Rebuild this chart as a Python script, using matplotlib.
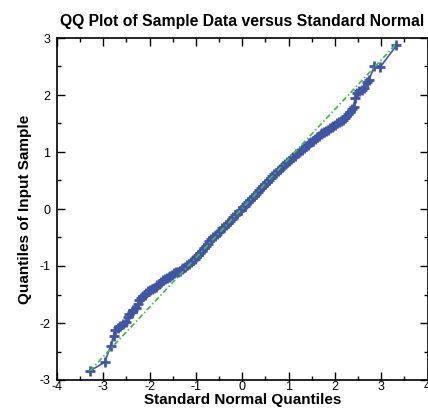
import matplotlib
matplotlib.use("Agg")
import matplotlib.pyplot as plt
from matplotlib.ticker import MultipleLocator

plt.rcParams.update({"font.family": ["Liberation Sans", "DejaVu Sans"],
                     "axes.unicode_minus": False})

BLUE, GREEN = "#3f55a6", "#4cb84c"

# sorted sample quantiles vs standard normal quantiles
norm_q = [-3.29, -2.97, -2.84, -2.78, -2.74, -2.68, -2.63, -2.57, -2.51, -2.47,
          -2.44, -2.39, -2.35, -2.30, -2.26, -2.23,
          -2.19, -2.15, -2.11, -2.07, -2.03, -1.99, -1.95, -1.91, -1.87, -1.83,
          -1.79, -1.75, -1.71, -1.67, -1.63, -1.59, -1.55, -1.51, -1.47, -1.43,
          -1.39, -1.35, -1.31, -1.27, -1.23, -1.19, -1.15, -1.11, -1.07, -1.03,
          -0.99, -0.95, -0.91, -0.87, -0.83, -0.79, -0.75, -0.71, -0.67, -0.63,
          -0.59, -0.55, -0.51, -0.47, -0.43, -0.39, -0.35, -0.31, -0.27, -0.23,
          -0.19, -0.15, -0.11, -0.07, -0.03, 0.01, 0.05, 0.09, 0.13, 0.17,
          0.21, 0.25, 0.29, 0.33, 0.37, 0.41, 0.45, 0.49, 0.53, 0.57,
          0.61, 0.65, 0.69, 0.73, 0.77, 0.81, 0.85, 0.89, 0.93, 0.97,
          1.01, 1.05, 1.09, 1.13, 1.17, 1.21, 1.25, 1.29, 1.33, 1.37,
          1.41, 1.45, 1.49, 1.53, 1.57, 1.61, 1.65, 1.69, 1.73, 1.77,
          1.81, 1.85, 1.89, 1.93, 1.97, 2.01, 2.05, 2.09, 2.13, 2.17,
          2.21, 2.25, 2.29,
          2.33, 2.37, 2.41, 2.43, 2.48, 2.53, 2.59, 2.63, 2.70, 2.74,
          2.85, 2.98, 3.33]
sample_q = [-2.84, -2.69, -2.40, -2.22, -2.13, -2.08, -2.06, -2.01, -1.99, -1.90,
            -1.84, -1.80, -1.78, -1.73, -1.67, -1.60,
            -1.57, -1.53, -1.50, -1.47, -1.44, -1.42, -1.40, -1.38, -1.36, -1.34,
            -1.31, -1.28, -1.25, -1.23, -1.21, -1.19, -1.17, -1.15, -1.13, -1.11,
            -1.10, -1.08, -1.06, -1.04, -1.02, -0.99, -0.96, -0.93, -0.90, -0.87,
            -0.84, -0.81, -0.78, -0.74, -0.69, -0.65, -0.61, -0.56, -0.53, -0.50,
            -0.47, -0.44, -0.41, -0.38, -0.34, -0.31, -0.28, -0.25, -0.21, -0.18,
            -0.14, -0.11, -0.08, -0.04, -0.01, 0.03, 0.06, 0.09, 0.13, 0.16,
            0.20, 0.23, 0.27, 0.30, 0.33, 0.37, 0.41, 0.44, 0.47, 0.51,
            0.54, 0.58, 0.61, 0.64, 0.67, 0.70, 0.73, 0.76, 0.79, 0.82,
            0.85, 0.88, 0.91, 0.93, 0.96, 0.99, 1.02, 1.04, 1.07, 1.10,
            1.13, 1.15, 1.18, 1.20, 1.23, 1.26, 1.28, 1.31, 1.33, 1.35,
            1.37, 1.39, 1.42, 1.44, 1.46, 1.48, 1.50, 1.52, 1.54, 1.57,
            1.60, 1.63, 1.67,
            1.71, 1.75, 1.79, 1.95, 2.03, 2.07, 2.09, 2.12, 2.22, 2.27,
            2.50, 2.49, 2.87]

# reference line through the quartiles, extended
ref_x = [-3.29, 3.34]
ref_y = [-2.84, 2.91]

fig = plt.figure(figsize=(4.28, 4.15), dpi=100)
ax = fig.add_axes([57 / 428, 1 - 380 / 415, 370.5 / 428, 342 / 415])

ax.plot(norm_q, sample_q, color=BLUE, lw=1.2, marker="+", ms=7, mew=2.0,
        zorder=2)
ln, = ax.plot(ref_x, ref_y, color=GREEN, lw=1.3, zorder=3)
ln.set_dashes([3.0, 1.4, 0.8, 1.4])

ax.set_xlim(-4, 4)
ax.set_ylim(-3, 3)
ax.xaxis.set_major_locator(MultipleLocator(1))
ax.xaxis.set_minor_locator(MultipleLocator(0.5))
ax.yaxis.set_major_locator(MultipleLocator(1))
ax.yaxis.set_minor_locator(MultipleLocator(0.5))
ax.tick_params(which="both", direction="in", top=True, right=True,
               width=1.0, labelsize=9)
ax.tick_params(which="major", length=5.5)
ax.tick_params(which="minor", length=3.2)
ax.tick_params(axis="x", pad=1)
ax.tick_params(axis="y", pad=5)
for s in ax.spines.values():
    s.set_linewidth(1.2)

ax.set_title("QQ Plot of Sample Data versus Standard Normal",
             fontsize=11.3, fontweight="bold", pad=9)
ax.set_xlabel("Standard Normal Quantiles", fontsize=11, fontweight="bold",
              labelpad=0)
ax.set_ylabel("Quantiles of Input Sample", fontsize=11, fontweight="bold",
              labelpad=5)

fig.savefig("out.png", dpi=100)
